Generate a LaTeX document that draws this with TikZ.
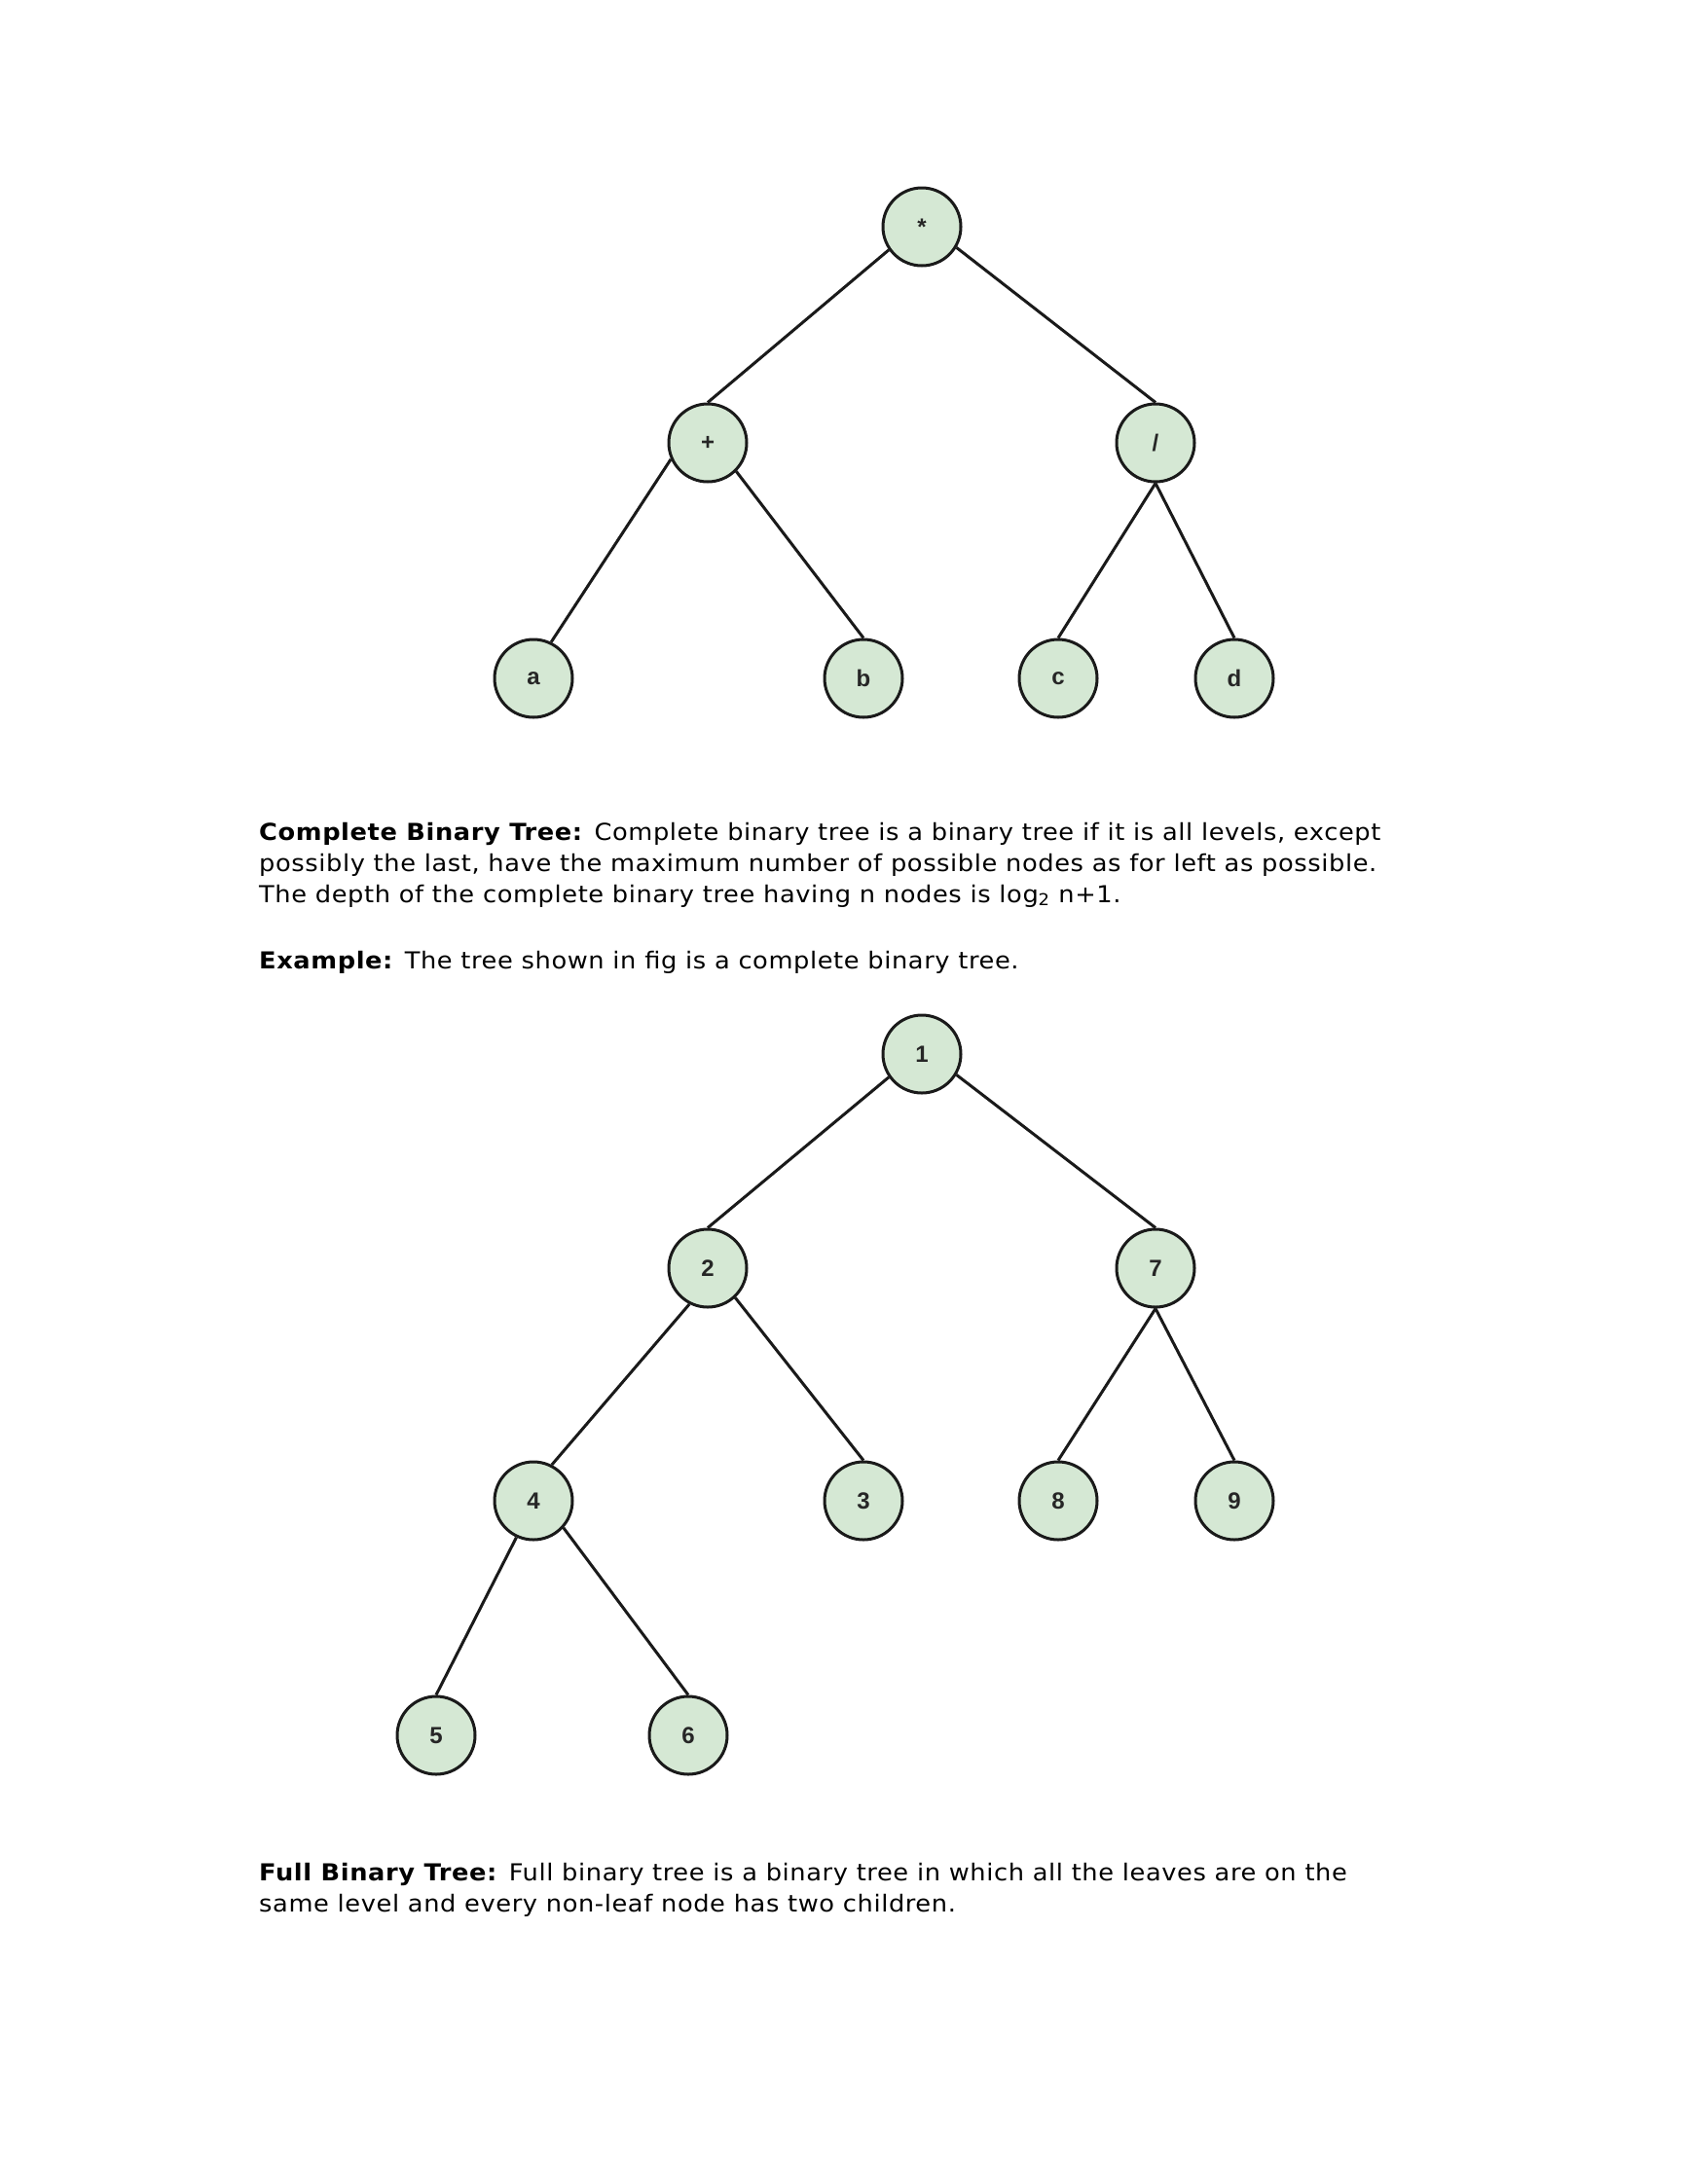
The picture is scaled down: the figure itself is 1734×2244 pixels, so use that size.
\documentclass[tikz,border=0pt]{standalone}
\usepackage{fontspec}
\setmainfont{DejaVu Sans}[FakeStretch=1.07,LetterSpace=2.5]
\newfontfamily\labelfont{Liberation Sans}
\definecolor{nodefill}{HTML}{D5E8D4}
\definecolor{edgecol}{HTML}{1A1A1A}
\begin{document}
\begin{tikzpicture}[x=1pt,y=-1pt,
  tnode/.style={circle,draw=edgecol,line width=3pt,fill=nodefill,minimum size=80pt,inner sep=0pt,
    font=\labelfont\fontsize{24}{24}\selectfont\bfseries,text=black!85},
  edge/.style={draw=edgecol,line width=3pt},
  para/.style={anchor=base west,inner sep=0pt,font=\fontsize{24}{32}\selectfont}]
\useasboundingbox[fill=white] (0,0) rectangle (1734,2244);
% first tree
\node[tnode] (s) at (947,233) {*};
\node[tnode] (p) at (727,455) {+};
\node[tnode] (q) at (1187,455) {/};
\node[tnode] (a) at (548,697) {a};
\node[tnode] (b) at (887,697) {b};
\node[tnode] (c) at (1087,697) {c};
\node[tnode] (d) at (1268,697) {d};
\draw[edge] (s.215) -- (p.north);
\draw[edge] (s.329) -- (q.north);
\draw[edge] (p.204) -- (a.64);
\draw[edge] (p.315) -- (b.north);
\draw[edge] (q.south) -- (c.north);
\draw[edge] (q.south) -- (d.north);
% text
\node[para] (t1) at (266,863) {\textbf{Complete Binary Tree:} Complete binary tree is a binary tree if it is all levels, except};
\node[para] (t2) at (266,895) {possibly the last, have the maximum number of possible nodes as for left as possible.};
\node[para] (t3) at (266,927) {The depth of the complete binary tree having n nodes is log\textsubscript{2} n+1.};
\node[para] (t4) at (266,995) {\textbf{Example:} The tree shown in fig is a complete binary tree.};
% second tree
\node[tnode] (n1) at (947,1083) {1};
\node[tnode] (n2) at (727,1303) {2};
\node[tnode] (n7) at (1187,1303) {7};
\node[tnode] (n4) at (548,1542) {4};
\node[tnode] (n3) at (887,1542) {3};
\node[tnode] (n8) at (1087,1542) {8};
\node[tnode] (n9) at (1268,1542) {9};
\node[tnode] (n5) at (448,1783) {5};
\node[tnode] (n6) at (707,1783) {6};
\draw[edge] (n1.215) -- (n2.north);
\draw[edge] (n1.329) -- (n7.north);
\draw[edge] (n2.243) -- (n4.63);
\draw[edge] (n2.313) -- (n3.north);
\draw[edge] (n7.south) -- (n8.north);
\draw[edge] (n7.south) -- (n9.north);
\draw[edge] (n4.245) -- (n5.north);
\draw[edge] (n4.318) -- (n6.north);
% text
\node[para] (t5) at (266,1932) {\textbf{Full Binary Tree:} Full binary tree is a binary tree in which all the leaves are on the};
\node[para] (t6) at (266,1964) {same level and every non-leaf node has two children.};
\end{tikzpicture}
\end{document}
